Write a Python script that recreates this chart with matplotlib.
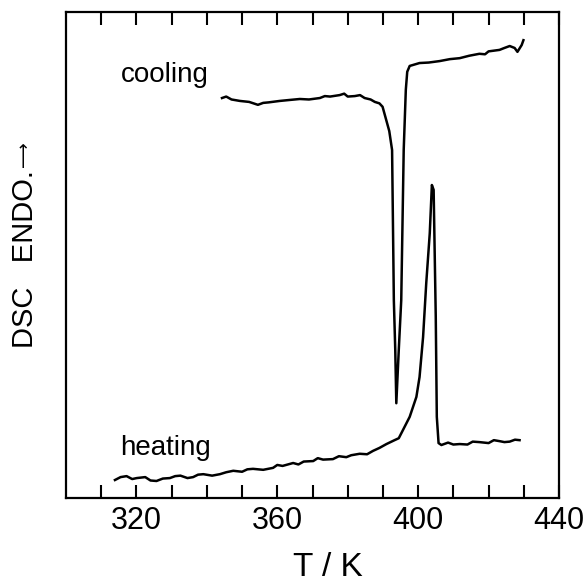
import matplotlib
matplotlib.use("Agg")
import matplotlib.pyplot as plt

plt.rcParams['font.family'] = ['Liberation Sans', 'DejaVu Sans']

# heating run (T in K, DSC signal in arbitrary units)
heat_T = [313.9, 315.5, 317.2, 318.8, 320.1, 322.5, 324.0, 325.7, 327.5, 329.5, 331.0,
          332.5, 334.5, 336.1, 337.5, 339.0, 341.5, 343.7, 345.5, 347.5, 350.0, 351.5,
          353.1, 356.0, 358.8, 360.0, 361.5, 364.5, 366.0, 367.5, 370.2, 371.5, 373.0,
          375.8, 377.5, 379.6, 381.0, 383.4, 385.5, 387.2, 389.0, 391.0, 393.3, 394.5,
          395.7, 397.6, 399.5, 400.4, 401.4, 402.3, 403.3, 403.9, 404.4, 405.0, 405.3,
          405.8, 406.6, 408.5, 410.0, 411.8, 414.0, 415.5, 417.4, 420.0, 421.5, 423.1,
          424.5, 426.0, 427.5, 428.8]
heat_y = [3.7, 4.3, 4.5, 3.9, 4.1, 4.3, 3.6, 3.5, 4.0, 4.1, 4.5,
          4.6, 4.1, 4.3, 4.8, 4.9, 4.6, 4.9, 5.3, 5.6, 5.4, 5.9,
          6.0, 5.8, 6.2, 6.8, 6.6, 7.2, 6.9, 7.5, 7.6, 8.2, 7.9,
          8.0, 8.6, 8.4, 8.8, 9.1, 9.0, 9.7, 10.3, 11.1, 11.9, 12.3,
          14.0, 16.7, 20.8, 24.9, 33.1, 44.2, 54.5, 64.4, 63.4, 37.4, 16.7,
          11.3, 10.9, 11.4, 11.0, 11.1, 11.0, 11.6, 11.5, 11.3, 11.9, 11.7,
          11.5, 11.6, 12.0, 11.9]

# cooling run
cool_T = [344.3, 345.5, 347.0, 349.4, 352.0, 354.5, 356.0, 357.5, 360.7, 363.5, 366.4,
          369.0, 372.1, 373.5, 375.0, 377.7, 379.0, 380.0, 382.0, 383.5, 384.8, 386.5,
          387.7, 389.0, 389.9, 390.7, 391.8, 392.6, 393.1, 393.5, 393.8, 394.5, 395.2,
          395.9, 396.5, 396.9, 397.6, 400.4, 403.0, 406.1, 409.0, 411.8, 414.5, 417.4,
          419.0, 420.0, 423.1, 424.5, 426.0, 427.4, 428.2, 429.4, 429.9]
cool_y = [82.3, 82.6, 82.0, 81.7, 81.5, 80.9, 81.3, 81.4, 81.7, 81.9, 82.1,
          82.0, 82.3, 82.7, 82.6, 82.9, 83.2, 82.6, 82.7, 82.9, 82.3, 82.0,
          81.5, 81.2, 80.5, 78.4, 75.5, 71.6, 40.7, 30.5, 19.5, 30.5, 40.7,
          71.6, 84.0, 87.7, 88.9, 89.5, 89.6, 89.9, 90.3, 90.5, 91.0, 91.4,
          91.3, 91.9, 92.2, 92.6, 93.0, 92.6, 91.8, 93.2, 94.2]

fig = plt.figure(figsize=(5.88, 5.82), dpi=100)
ax = fig.add_axes([66/588, 84/582, 493/588, 486/582])

ax.plot(heat_T, heat_y, color='black', lw=1.8)
ax.plot(cool_T, cool_y, color='black', lw=1.8)

ax.set_xlim(300, 440)
ax.set_ylim(0, 100)
ax.set_xticks([320, 360, 400, 440])
ax.set_xticks(range(310, 440, 10), minor=True)
ax.set_yticks([])
ax.tick_params(axis='x', which='both', direction='in', length=9.4, width=1.5,
               top=True, labelsize=22, pad=6)
for s in ax.spines.values():
    s.set_linewidth(1.6)

ax.text(315.6, 85.5, 'cooling', fontsize=20)
ax.text(315.3, 8.8, 'heating', fontsize=20)

fig.text(328/588, 15/582, 'T / K', fontsize=24, ha='center', va='center')
fig.text(25/588, (582 - 259)/582, 'DSC   ENDO.', fontsize=21, rotation=90,
         ha='center', va='center')
fig.text(24/588, (582 - 154)/582, '\u27f6', fontsize=13, rotation=90,
         ha='center', va='center', family='DejaVu Sans')

fig.savefig('out.png', dpi=100)
